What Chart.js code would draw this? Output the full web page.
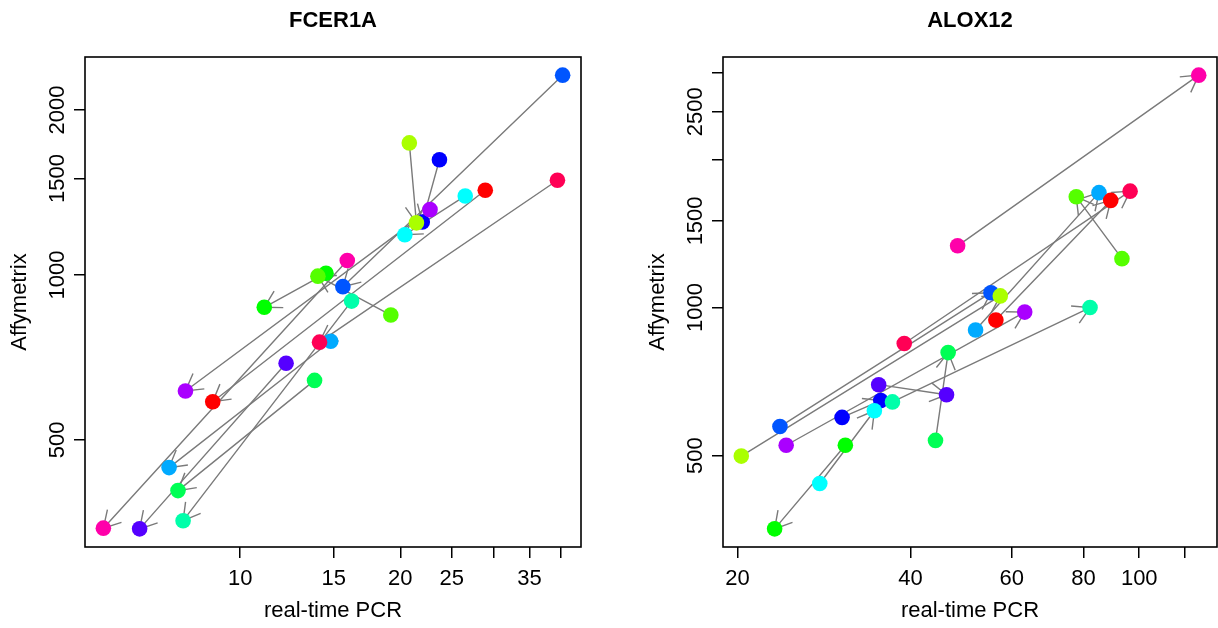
<!DOCTYPE html>
<html>
<head>
<meta charset="utf-8">
<script src="https://cdn.jsdelivr.net/npm/chart.js@4.4.0/dist/chart.umd.min.js"></script>
<style>
  html, body { margin: 0; padding: 0; background: #fff; }
  #wrap { display: flex; width: 1218px; height: 628px; }
  canvas { display: block; }
</style>
</head>
<body>
<div id="wrap">
  <canvas id="fcer1a" width="609" height="628"></canvas>
  <canvas id="alox12" width="609" height="628"></canvas>
</div>
<script>
// ---- FCER1A: one arrow per sample, from (pcrFrom, affyFrom) to (pcrTo, affyTo)
const fcerColors   = ['#0055FF','#00AAFF','#FF0055','#FF0000','#00FFFF','#0000FF','#AAFF00',
                      '#AA00FF','#FF00AA','#00FF00','#55FF00','#00FFAA','#5500FF','#00FF55'];
const fcerPcrFrom  = [40.4, 14.8, 39.5, 28.9, 26.5, 23.7, 20.8, 22.75, 15.9, 14.5, 19.2, 16.2, 12.2, 13.8];
const fcerAffyFrom = [2316, 757, 1489, 1428, 1394, 1623, 1742, 1316, 1063, 1007, 845, 896, 690, 642];
const fcerPcrTo    = [15.6, 7.35, 14.1, 8.88, 20.4, 22.0, 21.45, 7.89, 5.53, 11.1, 14.0, 7.81, 6.47, 7.64];
const fcerAffyTo   = [952, 445, 754, 587, 1184, 1249, 1245, 614, 345, 873, 995, 356, 344, 404];
const fcerPcrTicks   = [10, 15, 20, 25, 30, 35, 40];
const fcerPcrLabels  = ['10', '15', '20', '25', '', '35', ''];
const fcerAffyTicks  = [500, 1000, 1500, 2000];
const fcerAffyLabels = ['500', '1000', '1500', '2000'];

// ---- ALOX12
const aloxColors   = ['#0000FF','#00FFAA','#00FFFF','#0055FF','#AAFF00','#00AAFF','#FF0000',
                      '#FF0055','#FF00AA','#55FF00','#AA00FF','#00FF55','#5500FF','#00FF00'];
const aloxPcrFrom  = [30.4, 37.2, 27.8, 23.7, 20.3, 51.9, 56.3, 39.0, 48.3, 93.3, 24.3, 44.2, 35.2, 30.8];
const aloxAffyFrom = [598, 643, 439, 573, 499, 900, 943, 845, 1335, 1257, 525, 537, 697, 525];
const aloxPcrTo    = [35.5, 82.1, 34.6, 55.2, 57.3, 85.1, 89.2, 96.4, 126.9, 77.7, 63.2, 46.5, 46.2, 23.2];
const aloxAffyTo   = [647, 1000, 617, 1072, 1056, 1712, 1651, 1724, 2967, 1679, 979, 810, 665, 355];
const aloxPcrTicks   = [20, 40, 60, 80, 100, 120];
const aloxPcrLabels  = ['20', '40', '60', '80', '100', ''];
const aloxAffyTicks  = [500, 1000, 1500, 2000, 2500, 3000];
const aloxAffyLabels = ['500', '1000', '1500', '', '2500', ''];

const FONT = '"Liberation Sans", Arial, Helvetica, sans-serif';

// R-style axis limits: data range stretched by 4% on each side (in log space)
function logLimits(vals) {
  const lo = Math.log10(Math.min(...vals)), hi = Math.log10(Math.max(...vals));
  const r = hi - lo;
  return [Math.pow(10, lo - 0.04 * r), Math.pow(10, hi + 0.04 * r)];
}

function makePanel(id, title, colors, pcrFrom, affyFrom, pcrTo, affyTo,
                   xTicks, xLabels, yTicks, yLabels, boxLeft, boxRight) {
  const pts = [], cols = [];
  colors.forEach((c, i) => {
    pts.push({ x: pcrFrom[i], y: affyFrom[i] }, { x: pcrTo[i], y: affyTo[i] });
    cols.push(c, c);
  });
  const xl = logLimits([...pcrFrom, ...pcrTo]);
  const yl = logLimits([...affyFrom, ...affyTo]);

  const rStyle = {
    id: 'rStyle',
    beforeDatasetsDraw(chart) {
      const { ctx, scales: { x, y } } = chart;
      const L = 19, A = Math.PI / 6;
      ctx.save();
      ctx.strokeStyle = '#7a7a7a';
      ctx.lineWidth = 1.4;
      for (let i = 0; i < pcrFrom.length; i++) {
        const x0 = x.getPixelForValue(pcrFrom[i]), y0 = y.getPixelForValue(affyFrom[i]);
        const x1 = x.getPixelForValue(pcrTo[i]),   y1 = y.getPixelForValue(affyTo[i]);
        const a = Math.atan2(y1 - y0, x1 - x0);
        ctx.beginPath();
        ctx.moveTo(x0, y0);
        ctx.lineTo(x1, y1);
        ctx.moveTo(x1 - L * Math.cos(a - A), y1 - L * Math.sin(a - A));
        ctx.lineTo(x1, y1);
        ctx.lineTo(x1 - L * Math.cos(a + A), y1 - L * Math.sin(a + A));
        ctx.stroke();
      }
      ctx.restore();
    },
    afterDraw(chart) {
      const { ctx, chartArea: a, scales: { y } } = chart;
      ctx.save();
      ctx.strokeStyle = '#000';
      ctx.lineWidth = 1.6;
      ctx.strokeRect(a.left, a.top, a.right - a.left, a.bottom - a.top);
      // y tick labels, rotated like R's las=0
      ctx.fillStyle = '#000';
      ctx.font = '22px ' + FONT;
      ctx.textAlign = 'center';
      ctx.textBaseline = 'middle';
      yTicks.forEach((v, i) => {
        if (!yLabels[i]) return;
        ctx.save();
        ctx.translate(a.left - 27, y.getPixelForValue(v));
        ctx.rotate(-Math.PI / 2);
        ctx.fillText(yLabels[i], 0, 0);
        ctx.restore();
      });
      ctx.restore();
    }
  };

  return new Chart(document.getElementById(id), {
    type: 'scatter',
    data: {
      datasets: [{
        data: pts,
        backgroundColor: cols,
        borderWidth: 0,
        pointRadius: 7.8,
        pointHoverRadius: 7.8,
      }],
    },
    options: {
      responsive: false,
      animation: false,
      devicePixelRatio: 1,
      layout: { autoPadding: false, padding: { left: 0, right: 609 - boxRight, top: 0, bottom: 0 } },
      plugins: {
        legend: { display: false },
        tooltip: { enabled: false },
        title: {
          display: true,
          text: title,
          fullSize: false,
          color: '#000',
          font: { family: FONT, size: 22, weight: 'bold' },
          padding: { top: 7.8, bottom: 22.8 },
        },
      },
      scales: {
        x: {
          type: 'logarithmic',
          position: 'bottom',
          bounds: 'data',
          min: xl[0],
          max: xl[1],
          afterBuildTicks: s => { s.ticks = xTicks.map(v => ({ value: v })); },
          afterFit: s => { s.height = 81; },
          grid: { drawOnChartArea: false, drawTicks: true, tickLength: 11, color: '#000', lineWidth: 1.5 },
          border: { display: false },
          ticks: {
            autoSkip: false,
            maxRotation: 0,
            minRotation: 0,
            padding: 7.8,
            color: '#000',
            font: { family: FONT, size: 22 },
            callback: (v, i) => xLabels[i],
          },
          title: {
            display: true,
            text: 'real-time PCR',
            color: '#000',
            font: { family: FONT, size: 22 },
            padding: { top: 0, bottom: 3.8 },
          },
        },
        y: {
          type: 'logarithmic',
          position: 'left',
          bounds: 'data',
          min: yl[0],
          max: yl[1],
          afterBuildTicks: s => { s.ticks = yTicks.map(v => ({ value: v })); },
          afterFit: s => { s.width = boxLeft; },
          grid: { drawOnChartArea: false, drawTicks: true, tickLength: 11, color: '#000', lineWidth: 1.5 },
          border: { display: false },
          ticks: { display: false },
          title: {
            display: true,
            text: 'Affymetrix',
            color: '#000',
            font: { family: FONT, size: 22 },
            padding: { top: boxLeft - 78.2, bottom: 0 },
          },
        },
      },
    },
    plugins: [rStyle],
  });
}

makePanel('fcer1a', 'FCER1A', fcerColors, fcerPcrFrom, fcerAffyFrom, fcerPcrTo, fcerAffyTo,
          fcerPcrTicks, fcerPcrLabels, fcerAffyTicks, fcerAffyLabels, 85, 581);
makePanel('alox12', 'ALOX12', aloxColors, aloxPcrFrom, aloxAffyFrom, aloxPcrTo, aloxAffyTo,
          aloxPcrTicks, aloxPcrLabels, aloxAffyTicks, aloxAffyLabels, 114, 608);
</script>
</body>
</html>
